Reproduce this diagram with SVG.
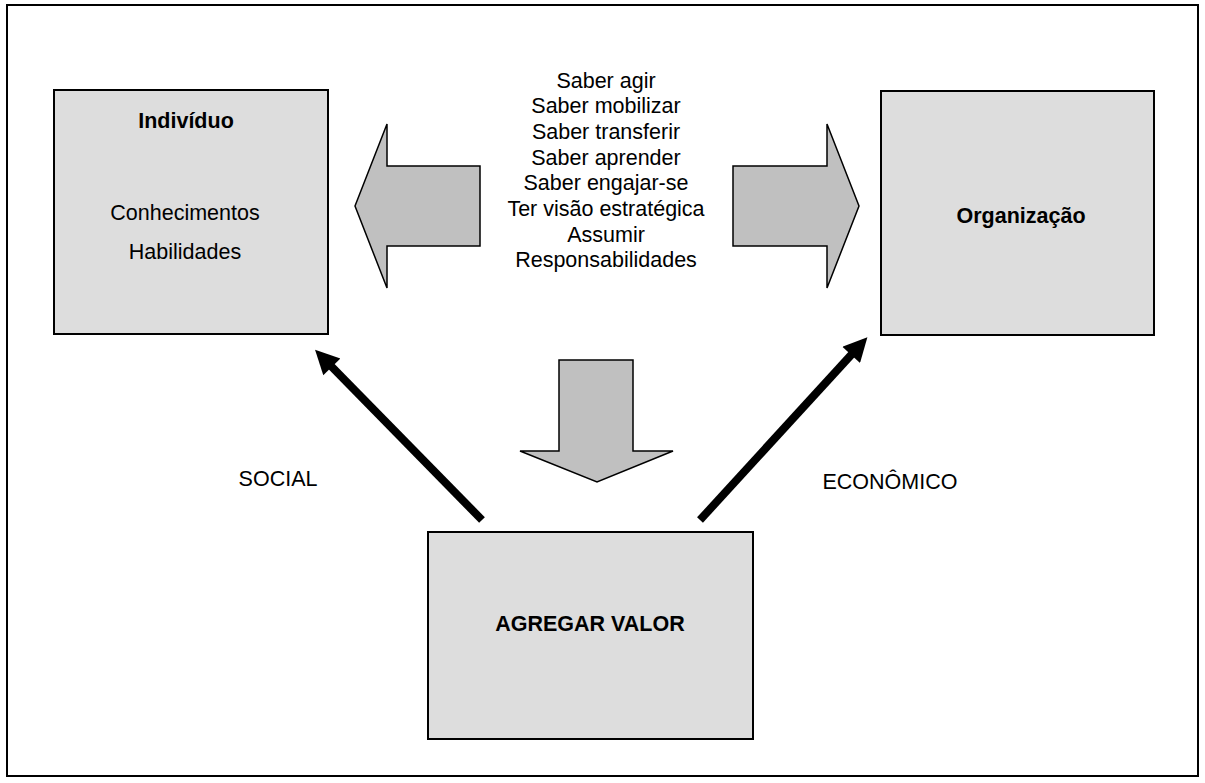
<svg xmlns="http://www.w3.org/2000/svg" width="1205" height="783" viewBox="0 0 1205 783">
<style>
.box{fill:#dddddd;stroke:#000;stroke-width:2}
.big{fill:#c0c0c0;stroke:#000;stroke-width:1.5;stroke-linejoin:miter}
.t{font-family:"Liberation Sans",Arial,sans-serif;font-size:21.5px;fill:#000;text-anchor:middle}
.b{font-weight:bold}
.conn{stroke:#000;stroke-width:8;fill:none}
</style>
<defs>
<marker id="ah" viewBox="0 0 10 10" refX="0.5" refY="5" markerWidth="26" markerHeight="24" markerUnits="userSpaceOnUse" orient="auto">
<path d="M0,0 L10,5 L0,10 z" fill="#000"/>
</marker>
</defs>
<rect x="7" y="5" width="1191" height="771" fill="#fff" stroke="#000" stroke-width="2"/>
<g id="individuo">
<rect class="box" x="54" y="90" width="274" height="244"/>
<text class="t b" x="186" y="128">Indivíduo</text>
<text class="t" x="185" y="220">Conhecimentos</text>
<text class="t" x="185" y="259">Habilidades</text>
</g>
<g id="organizacao">
<rect class="box" x="881" y="91" width="273" height="244"/>
<text class="t b" x="1021" y="223">Organização</text>
</g>
<g id="agregar">
<rect class="box" x="428" y="532" width="325" height="207"/>
<text class="t b" x="590" y="631">AGREGAR VALOR</text>
</g>
<g id="competencias">
<text class="t" x="606" y="87.5">Saber agir</text>
<text class="t" x="606" y="113.2">Saber mobilizar</text>
<text class="t" x="606" y="138.9">Saber transferir</text>
<text class="t" x="606" y="164.6">Saber aprender</text>
<text class="t" x="606" y="190.3">Saber engajar-se</text>
<text class="t" x="606" y="216">Ter visão estratégica</text>
<text class="t" x="606" y="241.7">Assumir</text>
<text class="t" x="606" y="267.4">Responsabilidades</text>
</g>
<g id="block-arrows">
<polygon class="big" points="355,206 387,124 387,166 480,166 480,246 387,246 387,288"/>
<polygon class="big" points="859,206 827,124 827,166 733,166 733,246 827,246 827,288"/>
<polygon class="big" points="559,360 633,360 633,451 673,451 597,482 520,451 559,451"/>
</g>
<g id="connectors">
<line class="conn" x1="482" y1="520" x2="331" y2="366" marker-end="url(#ah)"/>
<line class="conn" x1="700" y1="520" x2="852" y2="354" marker-end="url(#ah)"/>
<text class="t" x="278" y="486">SOCIAL</text>
<text class="t" x="890" y="489">ECONÔMICO</text>
</g>
</svg>
